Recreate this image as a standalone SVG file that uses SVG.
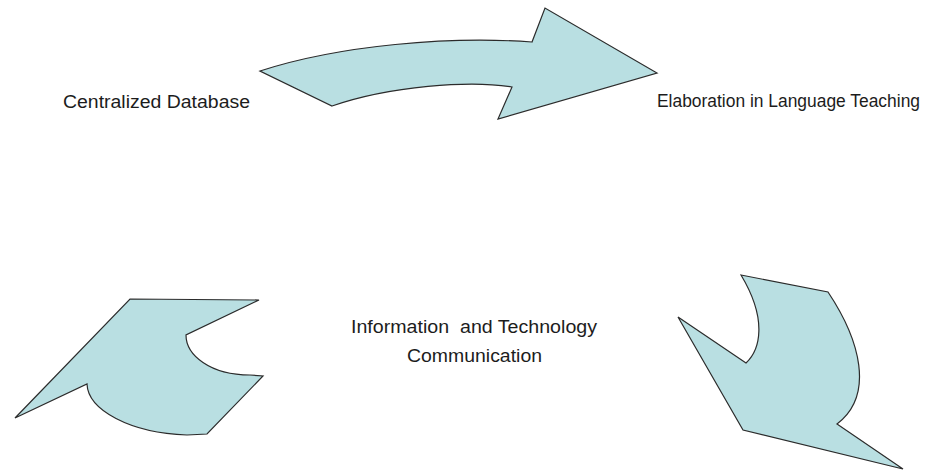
<svg xmlns="http://www.w3.org/2000/svg" width="927" height="472" viewBox="0 0 927 472">
<style>
.arrow{fill:#b9dfe2;stroke:#2b2b2b;stroke-width:1.2;stroke-linejoin:miter}
.lbl{font-family:"Liberation Sans","Open Sans",sans-serif;font-size:17.5px;fill:#1c1c1c;white-space:pre}
</style>
<rect width="927" height="472" fill="#ffffff"/>
<g id="connectors">
<path id="arrow-top" class="arrow" d="M260,71 C340,45 450,36 532,42 L545,8 L657,73 L498,119 L512,87 C470,80 390,86 332,106 Z"/>
<path id="arrow-right" class="arrow" d="M741,275 L828,292 C860,340 875,395 837,424 L903,469 L743,430 L678,317 L746,363 C760,350 768,320 741,275 Z"/>
<path id="arrow-left" class="arrow" d="M130,299 L259,300 L186,335 C186,355 210,375 250,375 L263,376 L207,434 L187,435 C130,433 88,410 87,384 L15,418 Z"/>
</g>
<g id="node-centralized">
<text class="lbl" x="63" y="108" textLength="187" lengthAdjust="spacingAndGlyphs">Centralized Database</text>
</g>
<g id="node-elaboration">
<text class="lbl" x="657" y="107" textLength="263" lengthAdjust="spacingAndGlyphs">Elaboration in Language Teaching</text>
</g>
<g id="node-ict">
<text class="lbl" x="351" y="333" textLength="246" lengthAdjust="spacingAndGlyphs" xml:space="preserve">Information  and Technology</text>
<text class="lbl" x="407" y="362" textLength="135" lengthAdjust="spacingAndGlyphs">Communication</text>
</g>
</svg>
